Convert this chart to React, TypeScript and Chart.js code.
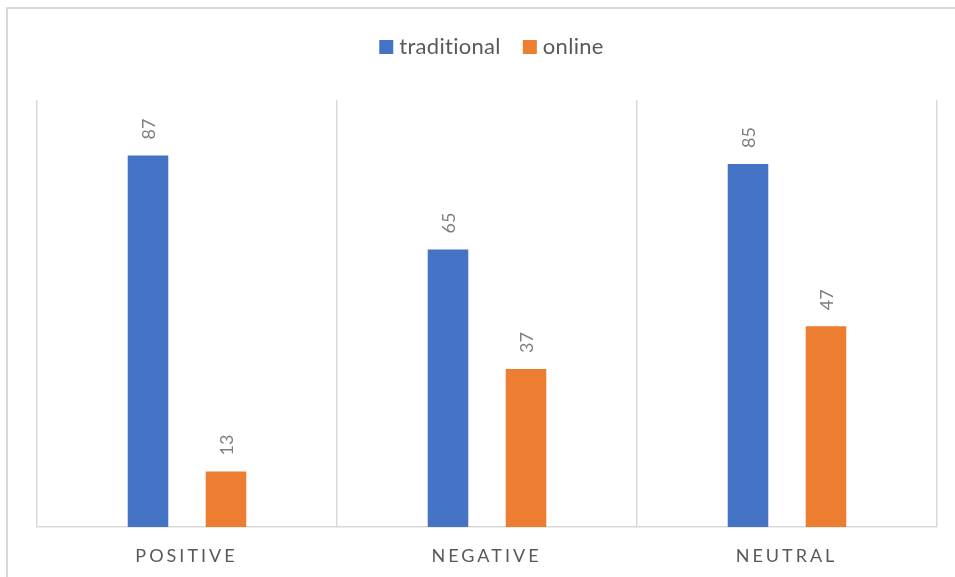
import React, { useEffect, useRef } from "react";
import { Chart, registerables } from "chart.js";

Chart.register(...registerables);

const categories = ["POSITIVE", "NEGATIVE", "NEUTRAL"];
const seriesNames = ["traditional", "online"];
const traditionalValues = [87, 65, 85];
const onlineValues = [13, 37, 47];
const seriesColors = ["#4472C4", "#ED7D31"];

const FONT = "Lato, 'Open Sans', sans-serif";

// Rotated value labels above each bar
const valueLabels = {
  id: "valueLabels",
  afterDatasetsDraw(chart: any) {
    const ctx = chart.ctx;
    ctx.save();
    ctx.fillStyle = "#7f7f7f";
    ctx.font = `18px ${FONT}`;
    ctx.textAlign = "left";
    ctx.textBaseline = "middle";
    chart.data.datasets.forEach((ds: any, di: number) => {
      const meta = chart.getDatasetMeta(di);
      meta.data.forEach((bar: any, i: number) => {
        ctx.save();
        ctx.translate(bar.x + 1, bar.y - 16);
        ctx.rotate(-Math.PI / 2);
        ctx.fillText(String(ds.data[i]), 0, 0);
        ctx.restore();
      });
    });
    ctx.restore();
  },
};

// Letter-spaced category names under the axis, and the legend on top
const chrome = {
  id: "chrome",
  afterDraw(chart: any) {
    const ctx = chart.ctx;
    const x = chart.scales.x;
    const spacing = 3;
    ctx.save();
    ctx.fillStyle = "#595959";
    ctx.font = `18px ${FONT}`;
    ctx.textAlign = "center";
    ctx.textBaseline = "alphabetic";
    (ctx as any).letterSpacing = `${spacing}px`;
    chart.data.labels.forEach((lab: string, i: number) => {
      ctx.fillText(lab, x.getPixelForValue(i) + spacing / 2 - 2, 562);
    });

    // legend (plain glyphs, no ligatures)
    ctx.font = `22px ${FONT}`;
    (ctx as any).letterSpacing = "0.3px";
    (ctx as any).textRendering = "optimizeSpeed";
    ctx.textAlign = "left";
    const box = 14;
    const gapBox = 6;
    const gapItem = 22;
    const widths = chart.data.datasets.map(
      (ds: any) => box + gapBox + ctx.measureText(ds.label).width
    );
    const total = widths.reduce((a: number, b: number) => a + b, 0) + gapItem * (widths.length - 1);
    let lx = chart.width / 2 - total / 2 + 14;
    chart.data.datasets.forEach((ds: any, i: number) => {
      ctx.fillStyle = ds.backgroundColor;
      ctx.fillRect(lx, 40, box, box);
      ctx.fillStyle = "#595959";
      ctx.fillText(ds.label, lx + box + gapBox, 54);
      lx += widths[i] + gapItem;
    });
    (ctx as any).letterSpacing = "0px";
    (ctx as any).textRendering = "auto";
    ctx.restore();
  },
};

function BarChart() {
  const ref = useRef<HTMLCanvasElement>(null);
  useEffect(() => {
    if (!ref.current) return;
    const chart = new Chart(ref.current, {
      type: "bar",
      data: {
        labels: categories,
        datasets: [
          {
            label: seriesNames[0],
            data: traditionalValues,
            backgroundColor: seriesColors[0],
            categoryPercentage: 0.52,
            barPercentage: 0.52,
          },
          {
            label: seriesNames[1],
            data: onlineValues,
            backgroundColor: seriesColors[1],
            categoryPercentage: 0.52,
            barPercentage: 0.52,
          },
        ],
      },
      options: {
        responsive: false,
        animation: false,
        layout: { padding: { left: 37, right: 18, top: 100, bottom: 50 } },
        plugins: {
          legend: { display: false },
          tooltip: { enabled: false },
        },
        scales: {
          x: {
            ticks: { display: false },
            grid: {
              display: true,
              offset: true,
              color: "#d9d9d9",
              lineWidth: 1.5,
              drawTicks: false,
              tickLength: 0,
            },
            border: { display: true, color: "#d9d9d9", width: 1.5 },
          },
          y: {
            display: false,
            min: 0,
            max: 100,
          },
        },
      },
      plugins: [valueLabels, chrome],
    });
    return () => chart.destroy();
  }, []);
  return <canvas ref={ref} width={955} height={577} style={{ position: "absolute", left: 0, top: 0 }} />;
}

export default function App() {
  return (
    <div
      style={{
        position: "fixed",
        left: 0,
        top: 0,
        width: 955,
        height: 577,
        overflow: "hidden",
        background: "#ffffff",
      }}
    >
      <div
        style={{
          position: "absolute",
          left: 6,
          top: 7,
          width: 980,
          height: 600,
          border: "2px solid #d9d9d9",
        }}
      />
      <BarChart />
    </div>
  );
}
